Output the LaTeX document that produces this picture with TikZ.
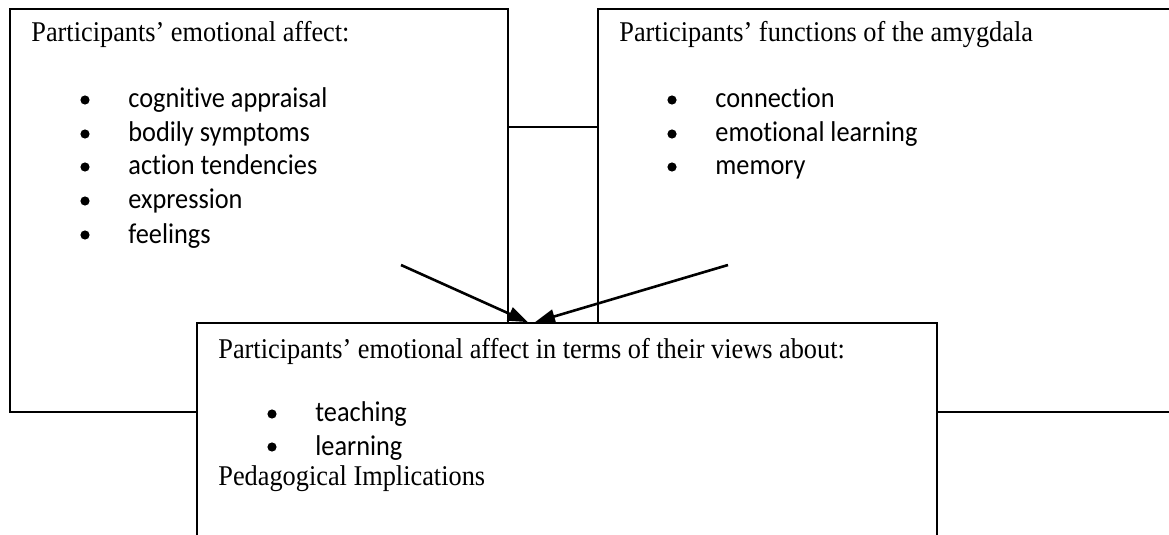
\documentclass[tikz,border=0pt]{standalone}
\usepackage{fontspec}
\setmainfont[FakeStretch=0.92]{Liberation Serif}
\newfontfamily\calfont[FakeStretch=0.92,RawFeature={-liga}]{Carlito}
\usetikzlibrary{arrows.meta}
\begin{document}
\begin{tikzpicture}[x=0.5pt,y=-0.5pt,
  box/.style={draw, line width=0.85pt, fill=white, rectangle, inner sep=0},
  ttl/.style={anchor=base west, inner sep=0, font=\fontsize{14.3}{17}\selectfont},
  itm/.style={anchor=base west, inner sep=0, font=\calfont\fontsize{14.3}{17}\selectfont},
  bul/.style={circle, fill, inner sep=0, minimum size=4.6pt},
  arr/.style={line width=1.3pt, -{Triangle[length=10pt,width=7pt]}},
  conn/.style={line width=0.85pt}]
\useasboundingbox (0,0) rectangle (1169,535);
\clip (0,0) rectangle (1169,535);
% upper boxes
\node[box, minimum width=249pt, minimum height=201.5pt] (lbox) at (259,210.5) {};
\node[box, minimum width=296pt, minimum height=201.5pt] (rbox) at (894,210.5) {};
\draw[conn] (lbox.east |- 0,127) -- (rbox.west |- 0,127);
% left box text
\node[ttl] (lt) at (31,42) {Participants’ emotional affect:};
\foreach \n/\y/\t in {1/108/cognitive appraisal, 2/142/bodily symptoms, 3/175/action tendencies, 4/209/expression, 5/243/feelings}{
  \node[bul] (lb\n) at (85,\y-8) {};
  \node[itm] (li\n) at (128,\y) {\t};
}
% right box text
\node[ttl] (rt) at (619,42) {Participants’ functions of the amygdala};
\foreach \n/\y/\t in {1/108/connection, 2/142/emotional learning, 3/175/memory}{
  \node[bul] (rb\n) at (672,\y-8) {};
  \node[itm] (ri\n) at (715,\y) {\t};
}
% bottom box
\node[box, minimum width=370pt, minimum height=118.5pt] (bbox) at (567,441.5) {};
\node[ttl] (bt) at (218,358) {Participants’ emotional affect in terms of their views about:};
\foreach \n/\y/\t in {1/422/teaching, 2/455/learning}{
  \node[bul] (bb\n) at (272,\y-8) {};
  \node[itm] (bi\n) at (315,\y) {\t};
}
\node[ttl] (bp) at (218,485) {Pedagogical Implications};
% arrows
\coordinate (a1) at (401,265);
\coordinate (a2) at (728,265);
\draw[arr] (a1) -- (528,0 |- bbox.north);
\draw[arr] (a2) -- (535,0 |- bbox.north);
\end{tikzpicture}
\end{document}
